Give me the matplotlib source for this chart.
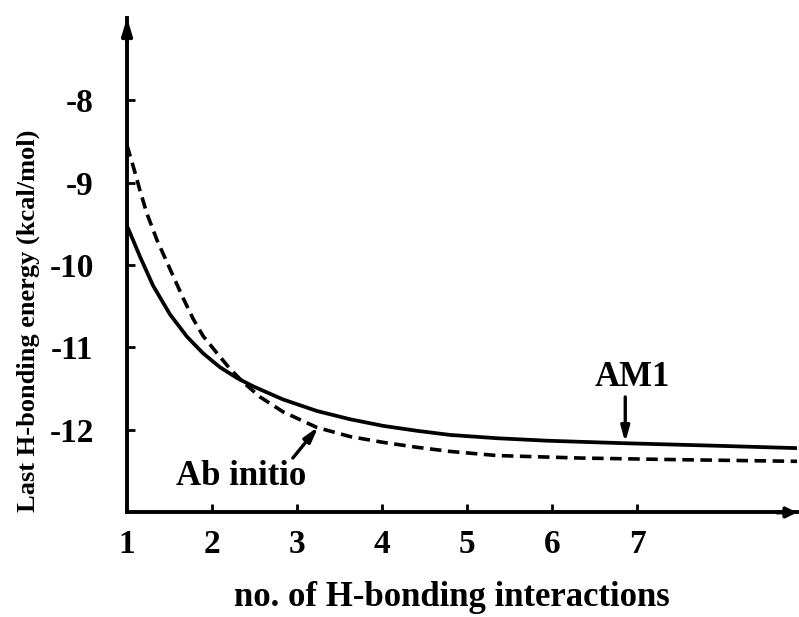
import matplotlib
matplotlib.use("Agg")
import matplotlib.pyplot as plt

plt.rcParams['font.family'] = ['Liberation Serif', 'DejaVu Serif']
plt.rcParams['font.weight'] = 'bold'
plt.rcParams['axes.unicode_minus'] = False

# AM1 curve (solid)
am1_x = [1.0, 1.035, 1.153, 1.306, 1.506, 1.706, 1.894, 2.094, 2.294, 2.482, 2.68, 2.835,
         3.235, 3.624, 4.012, 4.412, 4.8, 5.353, 5.94, 6.835, 7.894, 8.88]
am1_y = [-9.53, -9.61, -9.90, -10.25, -10.60, -10.87, -11.07, -11.24, -11.37, -11.47, -11.56, -11.63,
         -11.77, -11.87, -11.95, -12.01, -12.06, -12.10, -12.13, -12.16, -12.19, -12.22]

# Ab initio curve (dashed)
ab_x = [1.0, 1.094, 1.153, 1.235, 1.353, 1.541, 1.659, 1.776, 1.894, 2.059, 2.212, 2.365,
        2.565, 2.835, 3.235, 3.624, 4.012, 4.412, 4.8, 5.353, 6.33, 7.5, 8.88]
ab_y = [-8.55, -8.88, -9.10, -9.38, -9.70, -10.13, -10.40, -10.65, -10.86, -11.07, -11.26, -11.42,
        -11.60, -11.78, -11.97, -12.08, -12.15, -12.21, -12.26, -12.31, -12.34, -12.36, -12.38]

x_ticks = [1, 2, 3, 4, 5, 6, 7]
y_ticks = [-12, -11, -10, -9, -8]
y_tick_labels = ['-12', '-11', '-10', '-9', '-8']

fig = plt.figure(figsize=(7.99, 6.17), dpi=100)
ax = fig.add_axes([0.159, 0.1694, 0.8385, 0.8022])

ax.plot(am1_x, am1_y, color='black', lw=2.7, solid_capstyle='butt', solid_joinstyle='round')
ax.plot(ab_x, ab_y, color='black', lw=2.6, linestyle=(0, (3.2, 1.8)))

ax.set_xlim(1, 8.88)
ax.set_ylim(-13, -7)

for s in ['top', 'right']:
    ax.spines[s].set_visible(False)
for s in ['left', 'bottom']:
    ax.spines[s].set_linewidth(2.8)

ax.set_xticks(x_ticks)
ax.set_xticklabels([str(v) for v in x_ticks], fontsize=24, fontweight='bold')
ax.set_yticks(y_ticks)
ax.set_yticklabels(y_tick_labels, fontsize=24, fontweight='bold')
ax.tick_params(axis='both', direction='in', length=6, width=2)
ax.tick_params(axis='y', pad=24)
ax.tick_params(axis='x', pad=12)

# axis arrows
ax.annotate('', xy=(0, 1.0), xytext=(0, 0.95), xycoords='axes fraction',
            arrowprops=dict(arrowstyle='-|>,head_length=1.0,head_width=0.3',
                            color='black', lw=2.8, shrinkA=0, shrinkB=0))
ax.annotate('', xy=(1.0, 0), xytext=(0.97, 0), xycoords='axes fraction',
            arrowprops=dict(arrowstyle='-|>,head_length=0.6,head_width=0.3',
                            color='black', lw=2.8, shrinkA=0, shrinkB=0))

# annotations
ax.text(6.94, -11.36, 'AM1', fontsize=25, fontweight='bold', ha='center', va='center')
ax.annotate('', xy=(6.86, -12.15), xytext=(6.86, -11.6),
            arrowprops=dict(arrowstyle='-|>,head_length=0.9,head_width=0.25',
                            color='black', lw=2.4, shrinkA=0, shrinkB=0))
ax.text(2.34, -12.56, 'Ab initio', fontsize=25, fontweight='bold', ha='center', va='center')
ax.annotate('', xy=(3.25, -11.96), xytext=(2.95, -12.34),
            arrowprops=dict(arrowstyle='-|>,head_length=0.9,head_width=0.25',
                            color='black', lw=2.4, shrinkA=0, shrinkB=0))

fig.text(28 / 799, 1 - 321 / 617, 'Last H-bonding energy (kcal/mol)', rotation=90,
         fontsize=19, fontweight='bold', ha='center', va='center')
fig.text(452 / 799, 1 - 597 / 617, 'no. of H-bonding interactions',
         fontsize=25, fontweight='bold', ha='center', va='center')

fig.savefig('out.png', dpi=100)
